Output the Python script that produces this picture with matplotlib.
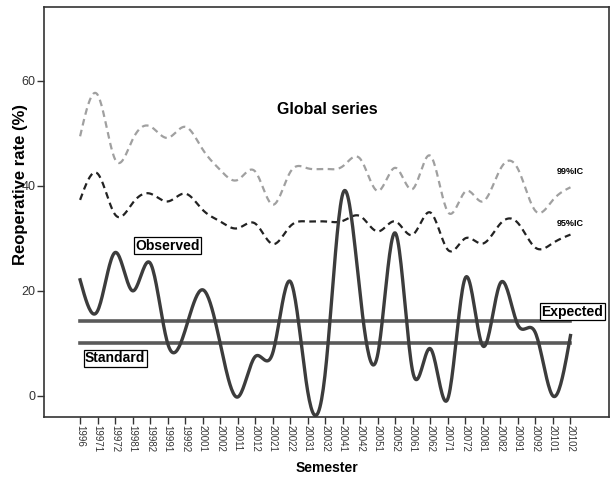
import numpy as np
import matplotlib
matplotlib.use("Agg")
import matplotlib.pyplot as plt

plt.rcParams['font.family'] = ['Liberation Sans', 'DejaVu Sans']

# Semester labels (year + semester number)
semesters = ['1996', '19971', '19972', '19981', '19982', '19991', '19992',
             '20001', '20002', '20011', '20012', '20021', '20022', '20031',
             '20032', '20041', '20042', '20051', '20052', '20061', '20062',
             '20071', '20072', '20081', '20082', '20091', '20092', '20101',
             '20102']

# Observed reoperative rate (%)
observed = [22.1, 16.2, 27.3, 20.0, 25.3, 10.0, 12.5, 20.2, 10.0, -0.2,
            7.5, 8.2, 21.8, 0.8, 4.5, 38.5, 19.0, 8.0, 31.0, 4.5,
            9.0, -0.5, 22.5, 9.5, 21.5, 13.5, 12.0, 0.0, 11.5]

# Upper control limits
ic95 = [37.3, 42.3, 34.5, 36.7, 38.5, 37.0, 38.5, 35.4, 33.2, 31.9,
        32.8, 28.9, 32.3, 33.2, 33.2, 33.3, 34.2, 31.3, 33.2, 30.7,
        34.9, 27.8, 30.0, 29.0, 32.8, 32.9, 28.2, 29.1, 30.7]
ic99 = [49.4, 57.3, 45.0, 48.8, 51.3, 49.1, 51.2, 46.9, 43.0, 41.1,
        42.7, 36.4, 42.6, 43.3, 43.2, 43.7, 45.1, 39.0, 43.4, 39.4,
        45.7, 35.0, 38.9, 37.0, 43.2, 43.2, 35.2, 37.3, 39.7]

expected = 14.2
standard = 10.0


def natural_spline(x, y, n=600):
    # natural cubic spline through (x, y), evaluated on a fine grid
    x = np.asarray(x, dtype=float)
    y = np.asarray(y, dtype=float)
    k = len(x)
    h = np.diff(x)
    A = np.zeros((k, k))
    b = np.zeros(k)
    A[0, 0] = A[-1, -1] = 1.0
    for i in range(1, k - 1):
        A[i, i - 1] = h[i - 1]
        A[i, i] = 2 * (h[i - 1] + h[i])
        A[i, i + 1] = h[i]
        b[i] = 3 * ((y[i + 1] - y[i]) / h[i] - (y[i] - y[i - 1]) / h[i - 1])
    c = np.linalg.solve(A, b)
    xs = np.linspace(x[0], x[-1], n)
    idx = np.clip(np.searchsorted(x, xs) - 1, 0, k - 2)
    dx = xs - x[idx]
    bb = (y[idx + 1] - y[idx]) / h[idx] - h[idx] * (2 * c[idx] + c[idx + 1]) / 3
    dd = (c[idx + 1] - c[idx]) / (3 * h[idx])
    ys = y[idx] + bb * dx + c[idx] * dx ** 2 + dd * dx ** 3
    return xs, ys


pos = np.arange(len(semesters))

fig = plt.figure(figsize=(6.13, 4.78), dpi=100)
ax = fig.add_axes([0.0718, 0.1276, 0.9217, 0.8578])

# control limits
xs, ys = natural_spline(pos, ic99)
ax.plot(xs, ys, color='#a0a0a0', lw=1.6, dashes=(3, 2))
xs, ys = natural_spline(pos, ic95)
ax.plot(xs, ys, color='#222222', lw=1.6, dashes=(3, 2))

# expected and standard levels
ax.plot([pos[0], pos[-1]], [expected, expected], color='#5a5a5a', lw=2.6)
ax.plot([pos[0], pos[-1]], [standard, standard], color='#5a5a5a', lw=2.6)

# observed rate
xs, ys = natural_spline(pos, observed)
ax.plot(xs, ys, color='#3c3c3c', lw=2.4)

box = dict(boxstyle='square,pad=0.1', facecolor='white', edgecolor='black', lw=0.9)
ax.text(5.0, 28.6, 'Observed', fontsize=10, fontweight='bold', ha='center',
        va='center', bbox=box)
ax.text(2.0, 7.2, 'Standard', fontsize=10, fontweight='bold', ha='center',
        va='center', bbox=box)
ax.text(28.1, 16.0, 'Expected', fontsize=10, fontweight='bold', ha='center',
        va='center', bbox=box)
ax.text(27.2, 42.7, '99%IC', fontsize=6.5, fontweight='bold', ha='left', va='center')
ax.text(27.2, 32.8, '95%IC', fontsize=6.5, fontweight='bold', ha='left', va='center')
ax.text(14.1, 54.5, 'Global series', fontsize=11.5, fontweight='bold',
        ha='center', va='center')

ax.set_xlim(-2.06, 30.2)
ax.set_ylim(-4, 74)
ax.set_xticks(pos)
ax.set_xticklabels(semesters, rotation=270, fontsize=7)
ax.set_yticks([0, 20, 40, 60])
ax.tick_params(axis='both', direction='out', length=5, width=1, colors='#333333')
ax.tick_params(axis='x', pad=1, labelsize=7)
ax.tick_params(axis='y', pad=1, labelsize=9)
for sp in ax.spines.values():
    sp.set_linewidth(1.2)
    sp.set_color('#333333')

ax.set_xlabel('Semester', fontsize=10, fontweight='bold')
ax.set_ylabel('Reoperative rate (%)', fontsize=12, fontweight='bold')
ax.xaxis.set_label_coords(0.50, -0.124)
ax.yaxis.set_label_coords(-0.041, 0.566)
ax.xaxis.label.set_va('center')
ax.yaxis.label.set_va('center')

fig.savefig('out.png', dpi=100)
